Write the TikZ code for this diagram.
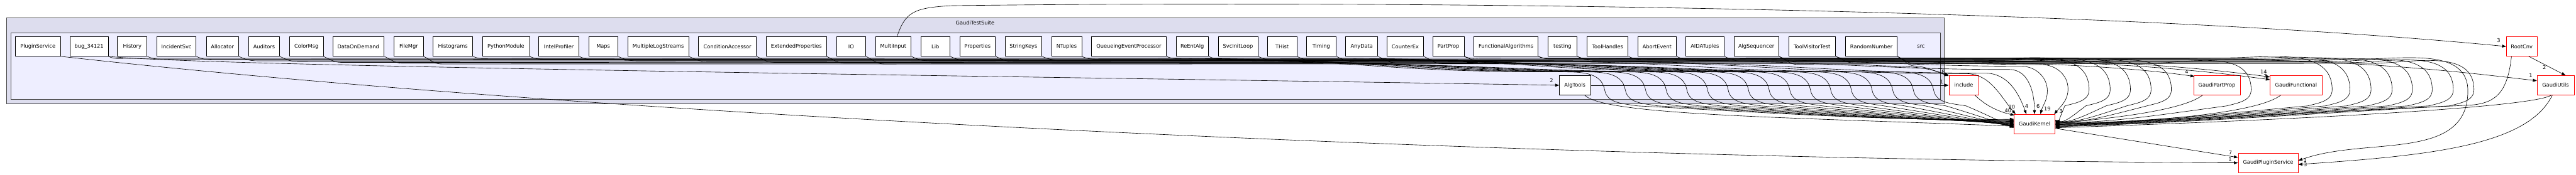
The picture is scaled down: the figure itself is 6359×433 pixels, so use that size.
\documentclass[tikz,border=0pt]{standalone}
\usepackage{fontspec}
\setmainfont{DejaVu Sans}
\usetikzlibrary{arrows.meta,calc}
\definecolor{outerfill}{HTML}{DDDDEE}
\definecolor{innerfill}{HTML}{EEEEFF}
\definecolor{clborder}{HTML}{444444}
\newcommand\dirnode[6][dirw]{%
  \pgfmathsetmacro\dcx{(#3+#4)/2}%
  \pgfmathsetmacro\dw{(#4-#3)*0.75}%
  \node[#1, minimum width=\dw pt] (#2) at (\dcx,#5) {#6};}
\tikzset{
  dirw/.style={draw=black, fill=white, line width=0.75pt, minimum height=36pt, inner sep=0pt, font=\fontsize{9.6}{11}\selectfont},
  dirr/.style={dirw, draw=red},
  dep/.style={draw=black, line width=0.75pt, -{Triangle[length=7.5pt,width=5.5pt]}},
  elabel/.style={inner sep=0pt, font=\fontsize{9.6}{11}\selectfont},
  cltext/.style={inner sep=0pt, font=\fontsize{9.6}{11}\selectfont}
}
\begin{document}
\begin{tikzpicture}[x=0.75pt,y=-0.75pt]
\useasboundingbox (0,0) rectangle (6359,433);
% clusters
\draw[fill=outerfill, draw=clborder, line width=0.9pt] (15.4,44.3) rectangle (4800,256.7);
\draw[fill=innerfill, draw=clborder, line width=0.9pt] (26.7,80.7) rectangle (4790.6,245.7);
\node[cltext] (suitelbl) at (2407,57) {GaudiTestSuite};
\node[cltext] (srclbl) at (4742,115) {src};
% top row
\dirnode{ps}{38}{149}{115}{PluginService}
\dirnode{bug}{173}{267}{115}{bug\_34121}
\dirnode{hist}{290}{363}{115}{History}
\dirnode{inc}{387}{484}{115}{IncidentSvc}
\dirnode{alloc}{509}{589}{115}{Allocator}
\dirnode{aud}{614}{690}{115}{Auditors}
\dirnode{color}{715}{798}{115}{ColorMsg}
\dirnode{dod}{821}{948}{115}{DataOnDemand}
\dirnode{filemgr}{973}{1045}{115}{FileMgr}
\dirnode{histo}{1069}{1167}{115}{Histograms}
\dirnode{pymod}{1191}{1307}{115}{PythonModule}
\dirnode{intel}{1330}{1429}{115}{IntelProfiler}
\dirnode{maps}{1453}{1525}{115}{Maps}
\dirnode{mls}{1550}{1700}{115}{MultipleLogStreams}
\dirnode{cond}{1724}{1867}{115}{ConditionAccessor}
\dirnode{ext}{1892}{2040}{115}{ExtendedProperties}
\dirnode{io}{2065}{2137}{115}{IO}
\dirnode{mi}{2161}{2249}{115}{MultiInput}
\dirnode{lib}{2273}{2345}{115}{Lib}
\dirnode{props}{2369}{2457}{115}{Properties}
\dirnode{sk}{2481}{2572}{115}{StringKeys}
\dirnode{nt}{2596}{2670}{115}{NTuples}
\dirnode{qep}{2694}{2879}{115}{QueueingEventProcessor}
\dirnode{reent}{2903}{2983}{115}{ReEntAlg}
\dirnode{sil}{3007}{3105}{115}{SvcInitLoop}
\dirnode{thist}{3129}{3201}{115}{THist}
\dirnode{timing}{3225}{3298}{115}{Timing}
\dirnode{any}{3322}{3401}{115}{AnyData}
\dirnode{cex}{3424}{3514}{115}{CounterEx}
\dirnode{pp}{3537}{3614}{115}{PartProp}
\dirnode{fa}{3638}{3797}{115}{FunctionalAlgorithms}
\dirnode{testing}{3821}{3893}{115}{testing}
\dirnode{th}{3918}{4019}{115}{ToolHandles}
\dirnode{abort}{4043}{4138}{115}{AbortEvent}
\dirnode{aida}{4161}{4256}{115}{AIDATuples}
\dirnode{algseq}{4280}{4391}{115}{AlgSequencer}
\dirnode{tvt}{4415}{4531}{115}{ToolVisitorTest}
\dirnode{rn}{4556}{4683}{115}{RandomNumber}
% other nodes
\dirnode{algtools}{3849.5}{3926}{211}{AlgTools}
\dirnode[dirr]{incl}{4811}{4884}{211}{include}
\dirnode[dirr]{gk}{4972}{5073}{307}{GaudiKernel}
\dirnode[dirr]{gpp}{5415}{5530}{211}{GaudiPartProp}
\dirnode[dirr]{gf}{5604}{5732}{211}{GaudiFunctional}
\dirnode[dirr]{rc}{6187}{6263}{115}{RootCnv}
\dirnode[dirr]{gu}{6263}{6354}{211}{GaudiUtils}
\dirnode[dirr]{gps}{5525}{5673}{403}{GaudiPluginService}
% S-curves into GaudiKernel (west)
\foreach \nm/\tx/\ly/\gy in {bug/3961/144/9,hist/4012/146/8,inc/4062/148/7,alloc/4113/150/6,aud/4164/152/5,color/4215/154/4,dod/4266/156/3,filemgr/4316/158/2,histo/4367/144/1,pymod/4418/146/0,intel/4469/148/-1,maps/4519/150/-2,mls/4570/152/-3,cond/4621/154/-4,ext/4672/156/-5,io/4723/158/-6,lib/4773/150/-7}{
  \draw[dep] (\nm.south east) to[out=-25,in=180] ($(\nm.south east)+(45,{\ly-139})$) -- ({\tx-1100},\ly) .. controls ({\tx-600},\ly) and ({\tx-600},178) .. ({\tx-110},178) to[out=0,in=100] (\tx,222) to[out=-80,in=170] ({\tx+80},262) .. controls ({\tx+80+0.4*(4892-\tx)},282) and ({4972-0.3*(4892-\tx)},300) .. ([yshift=\gy pt]gk.west);
}
% loops into GaudiKernel (east)
\foreach \nm/\tx/\ly/\gy in {reent/5157/147/8,sil/5209/149/7,thist/5259/151/6,timing/5310/153/5,any/5360/155/4,cex/5557/157/3,pp/5757/143/2,fa/5801/145/1,testing/5853/147/0,abort/5905/149/-1,aida/5955/151/-2,algseq/6004/153/-3,tvt/6056/155/-4,rn/6107/157/-5}{
  \draw[dep] (\nm.south east) to[out=-25,in=180] ($(\nm.south east)+(45,{\ly-139})$) -- ({\tx-260},\ly) to[out=0,in=90] (\tx,222) to[out=-90,in=15] ({\tx-60},262) .. controls ({\tx-60-0.4*(\tx-5133)},285) and ({5073+0.3*(\tx-5133)},305) .. ([yshift=\gy pt]gk.east);
}
% arrivals on top of GaudiKernel
\draw[dep] (mi.south east) to[out=-25,in=180] ($(mi.south east)+(45,11)$) -- (3800,150) .. controls (4300,150) and (4400,182) .. (4850,182) to[out=0,in=130] ([xshift=3pt]gk.north west);
\draw[dep] (props.south east) to[out=-25,in=180] ($(props.south east)+(45,13)$) -- (3900,152) .. controls (4400,152) and (4500,181) .. (4900,181) to[out=0,in=110] ([xshift=23pt]gk.north west);
\draw[dep] (sk.south east) to[out=-25,in=180] ($(sk.south east)+(45,9)$) -- (4000,148) .. controls (4500,148) and (4600,172) .. (4960,172) to[out=0,in=90] ([xshift=38pt]gk.north west);
\draw[dep] (nt.south east) to[out=-25,in=180] ($(nt.south east)+(45,7)$) -- (4100,146) .. controls (4600,146) and (4700,164) .. (4990,164) to[out=0,in=90] (5054,225) to[out=-90,in=75] ([xshift=49pt]gk.north west);
\draw[dep] (qep.south east) to[out=-25,in=180] ($(qep.south east)+(45,5)$) -- (4200,144) .. controls (4700,144) and (4800,160) .. (5040,160) to[out=0,in=90] (5105,220) to[out=-90,in=50] ([xshift=-2pt]gk.north east);
\node[elabel] (l40) at (4957,274) {40};
\node[elabel] (l20) at (4966,265) {20};
\node[elabel] (l4a) at (5003,263) {4};
\node[elabel] (l6) at (5031,263) {6};
\node[elabel] (l19) at (5054,270) {19};
\node[elabel] (l3a) at (5088,276) {3};
% to GaudiFunctional, GaudiPartProp, GaudiUtils, include
\draw[dep] (fa.south east) to[out=-25,in=180] ($(fa.south east)+(45,6)$) -- (4800,145) .. controls (5200,145) and (5450,170) .. ([yshift=-3pt]gf.north west);
\draw[dep] (testing.south east) to[out=-25,in=180] ($(testing.south east)+(45,10)$) -- (4800,149) .. controls (5200,149) and (5450,176) .. ([yshift=-8pt]gf.north west);
\node[elabel] (l14) at (5588,177) {14};
\node[elabel] (l7f) at (5592,188) {7};
\draw[dep] (pp.south east) to[out=-25,in=180] ($(pp.south east)+(45,12)$) -- (4600,151) .. controls (5000,151) and (5250,165) .. ([xshift=2pt,yshift=-2pt]gpp.north west);
\node[elabel] (l4p) at (5398,177) {4};
\draw[dep] (tvt.south east) to[out=-25,in=180] ($(tvt.south east)+(45,6)$) -- (5300,145) .. controls (5800,145) and (6050,175) .. ([yshift=-10pt]gu.north west);
\node[elabel] (l1u) at (6247,187) {1};
\draw[dep] (algseq.south east) to[out=-25,in=180] ($(algseq.south east)+(45,20)$) -- (4600,160) to[out=-5,in=160] (incl.north west);
\draw[dep] (rn.south east) to[out=-25,in=180] ($(rn.south east)+(45,24)$) to[out=-5,in=162] ([yshift=-1pt]incl.north west);
\node[elabel] (l8) at (4797,178) {8};
% loop to GaudiPluginService
\draw[dep] (th.south east) to[out=-25,in=180] ($(th.south east)+(45,8)$) -- (5830,146) to[out=0,in=90] (6092,225) to[out=-90,in=20] ([yshift=4pt]gps.east);
\node[elabel] (l1g) at (5690,397) {1};
% AlgTools
\draw[dep] (bug.south east) .. controls (500,165) and (2600,190) .. (algtools.west);
\node[elabel] (l2) at (3830,200) {2};
\draw[dep] (algtools.east) -- (incl.west);
\node[elabel] (l1i) at (4793,202) {1};
\draw[dep] ([xshift=-11pt]algtools.south east) .. controls (3960,285) and (4400,290) .. ([yshift=-4pt]gk.west);
% include -> GaudiKernel
\draw[dep] ([xshift=-7pt]incl.south east) .. controls (4905,265) and (4940,278) .. ([xshift=1pt,yshift=-2pt]gk.north west);
% MultiInput -> RootCnv
\draw[dep] ([xshift=7pt]mi.north) .. controls (2235,30) and (2255,19) .. (2350,14) .. controls (3500,0) and (5200,20) .. (rc.west);
\node[elabel] (l3r) at (6168,100) {3};
% RootCnv edges
\draw[dep] ([xshift=-16pt]rc.south east) -- ([xshift=-16pt]gu.north east);
\node[elabel] (l2u) at (6281,167) {2};
\draw[dep] ([xshift=-19pt]rc.south) .. controls (6190,230) and (6160,255) .. (6100,260) .. controls (5700,280) and (5200,300) .. ([yshift=-6pt]gk.east);
% GaudiUtils edges
\draw[dep] ([xshift=-8pt]gu.south) .. controls (6260,262) and (5800,292) .. ([yshift=-7pt]gk.east);
\draw[dep] ([xshift=-6pt]gu.south) .. controls (6240,360) and (6000,385) .. ([yshift=-3pt]gps.east);
\node[elabel] (l3g) at (5691,408) {3};
% GaudiPartProp, GaudiFunctional -> GaudiKernel
\draw[dep] ([xshift=17pt]gpp.south west) .. controls (5380,280) and (5150,298) .. ([yshift=1pt]gk.east);
\draw[dep] ([xshift=20pt]gf.south west) .. controls (5560,290) and (5200,305) .. ([yshift=-1pt]gk.east);
% to GaudiPluginService
\draw[dep] (ps.south east) .. controls (1500,290) and (3800,395) .. (gps.west);
\node[elabel] (l1p) at (5505,393) {1};
\draw[dep] ([yshift=-8pt]gk.east) -- ([yshift=10pt]gps.west);
\node[elabel] (l7) at (5506,378) {7};
\end{tikzpicture}
\end{document}
